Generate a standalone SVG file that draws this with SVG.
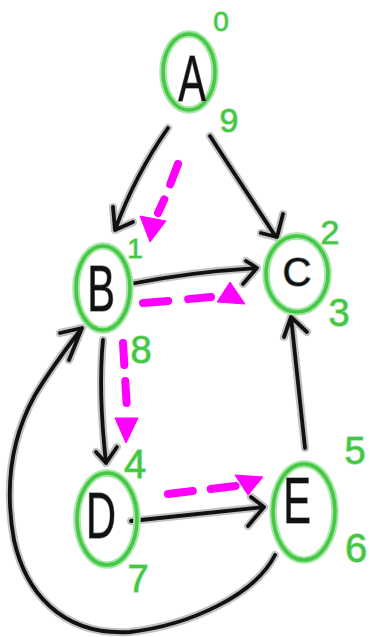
<svg xmlns="http://www.w3.org/2000/svg" xmlns:xlink="http://www.w3.org/1999/xlink" width="370" height="637" viewBox="0 0 370 637">
<style>
.halo{fill:none;stroke:#9a9a9a;stroke-width:8;stroke-linecap:round;stroke-linejoin:round;opacity:0.6}
.ink{fill:none;stroke:#111;stroke-width:3.8;stroke-linecap:round;stroke-linejoin:round}
.ghalo{fill:none;stroke:#a6e6a6;stroke-width:7.5}
.gink{fill:none;stroke:#45c845;stroke-width:3.5}
.mag{fill:none;stroke:#ff00ff;stroke-width:8;stroke-linecap:round}
.tri{fill:#ff00ff;stroke:#ff00ff;stroke-width:1;stroke-linejoin:round}
.lbl{font-family:"Liberation Sans",Arial,sans-serif;font-size:64px;fill:#111;stroke:#9a9a9a;stroke-width:1.5;paint-order:stroke;text-anchor:middle}
.lblc{font-size:40px}
.num{font-family:"Liberation Sans",Arial,sans-serif;fill:#44c644;stroke:#a6e6a6;stroke-width:1.5;paint-order:stroke;text-anchor:middle}
</style>
<defs>
<path id="pAB" d="M168,128 Q135,175 115,230 M113,207 L115,230 L133,222"/>
<path id="pAC" d="M210,136 Q245,190 276,237 M283,214 L277,237 L261,233"/>
<path id="pBC" d="M130,284 Q190,272 257,268 M246,261 L257,268 L243,284"/>
<path id="pBD" d="M103,340 Q98,390 106,463 M96,452 L106,463 L117,447"/>
<path id="pDE" d="M131,521 Q190,515 264,507 M251,497 L264,507 L248,526"/>
<path id="pEC" d="M305,448 Q298,380 291,317 M284,337 L291,317 L307,332"/>
<path id="pEB" d="M275,555 C255,595 190,625 130,632 C60,636 25,590 14,540 C5,490 10,440 35,395 C50,370 65,350 82,328 M60,333 L82,328 L69,360"/>
</defs>
<g id="connectors">
<use xlink:href="#pAB" class="halo"/><use xlink:href="#pAB" class="ink"/>
<use xlink:href="#pAC" class="halo"/><use xlink:href="#pAC" class="ink"/>
<use xlink:href="#pBC" class="halo"/><use xlink:href="#pBC" class="ink"/>
<use xlink:href="#pBD" class="halo"/><use xlink:href="#pBD" class="ink"/>
<use xlink:href="#pDE" class="halo"/><use xlink:href="#pDE" class="ink"/>
<use xlink:href="#pEC" class="halo"/><use xlink:href="#pEC" class="ink"/>
<use xlink:href="#pEB" class="halo"/><use xlink:href="#pEB" class="ink"/>
<path class="mag" d="M178,164 Q172,180 164,200 L158,213" stroke-dasharray="22,16"/>
<polygon class="tri" points="140,216 166,221 150,242"/>
<path class="mag" d="M143,303 Q180,300 211,297" stroke-dasharray="25,20"/>
<polygon class="tri" points="217,302 245,304 230,282"/>
<path class="mag" d="M123,343 L127,410" stroke-dasharray="22,16"/>
<polygon class="tri" points="115,418 138,418 126,443"/>
<path class="mag" d="M168,494 L236,486" stroke-dasharray="25,18"/>
<polygon class="tri" points="235,475 263,477 248,495"/>
</g>
<g id="nodeA">
<ellipse cx="189" cy="72" rx="26" ry="38" class="ghalo"/><ellipse cx="189" cy="72" rx="26" ry="38" class="gink"/>
<text class="lbl" transform="translate(192,101) scale(0.65,1)">A</text>
<text class="num" x="221" y="31" font-size="28">0</text>
<text class="num" x="229" y="132" font-size="34">9</text>
</g>
<g id="nodeB">
<ellipse cx="103" cy="288" rx="27" ry="42" class="ghalo"/><ellipse cx="103" cy="288" rx="27" ry="42" class="gink"/>
<text class="lbl" transform="translate(101,311) scale(0.65,1)">B</text>
<text class="num" x="135" y="258" font-size="28">1</text>
<text class="num" x="141" y="363" font-size="38">8</text>
</g>
<g id="nodeC">
<ellipse cx="297" cy="274" rx="31" ry="38" class="ghalo"/><ellipse cx="297" cy="274" rx="31" ry="38" class="gink"/>
<text class="lbl lblc" x="297" y="286">C</text>
<text class="num" x="330" y="244" font-size="34">2</text>
<text class="num" x="339" y="326" font-size="38">3</text>
</g>
<g id="nodeD">
<ellipse cx="107" cy="519" rx="30" ry="46" class="ghalo"/><ellipse cx="107" cy="519" rx="30" ry="46" class="gink"/>
<text class="lbl" transform="translate(101,538) scale(0.65,1)">D</text>
<text class="num" x="135" y="478" font-size="40">4</text>
<text class="num" x="138" y="592" font-size="38">7</text>
</g>
<g id="nodeE">
<ellipse cx="304" cy="512" rx="31" ry="48" class="ghalo"/><ellipse cx="304" cy="512" rx="31" ry="48" class="gink"/>
<text class="lbl" transform="translate(297,523) scale(0.65,1)">E</text>
<text class="num" x="355" y="464" font-size="38">5</text>
<text class="num" x="356" y="562" font-size="40">6</text>
</g>
</svg>
